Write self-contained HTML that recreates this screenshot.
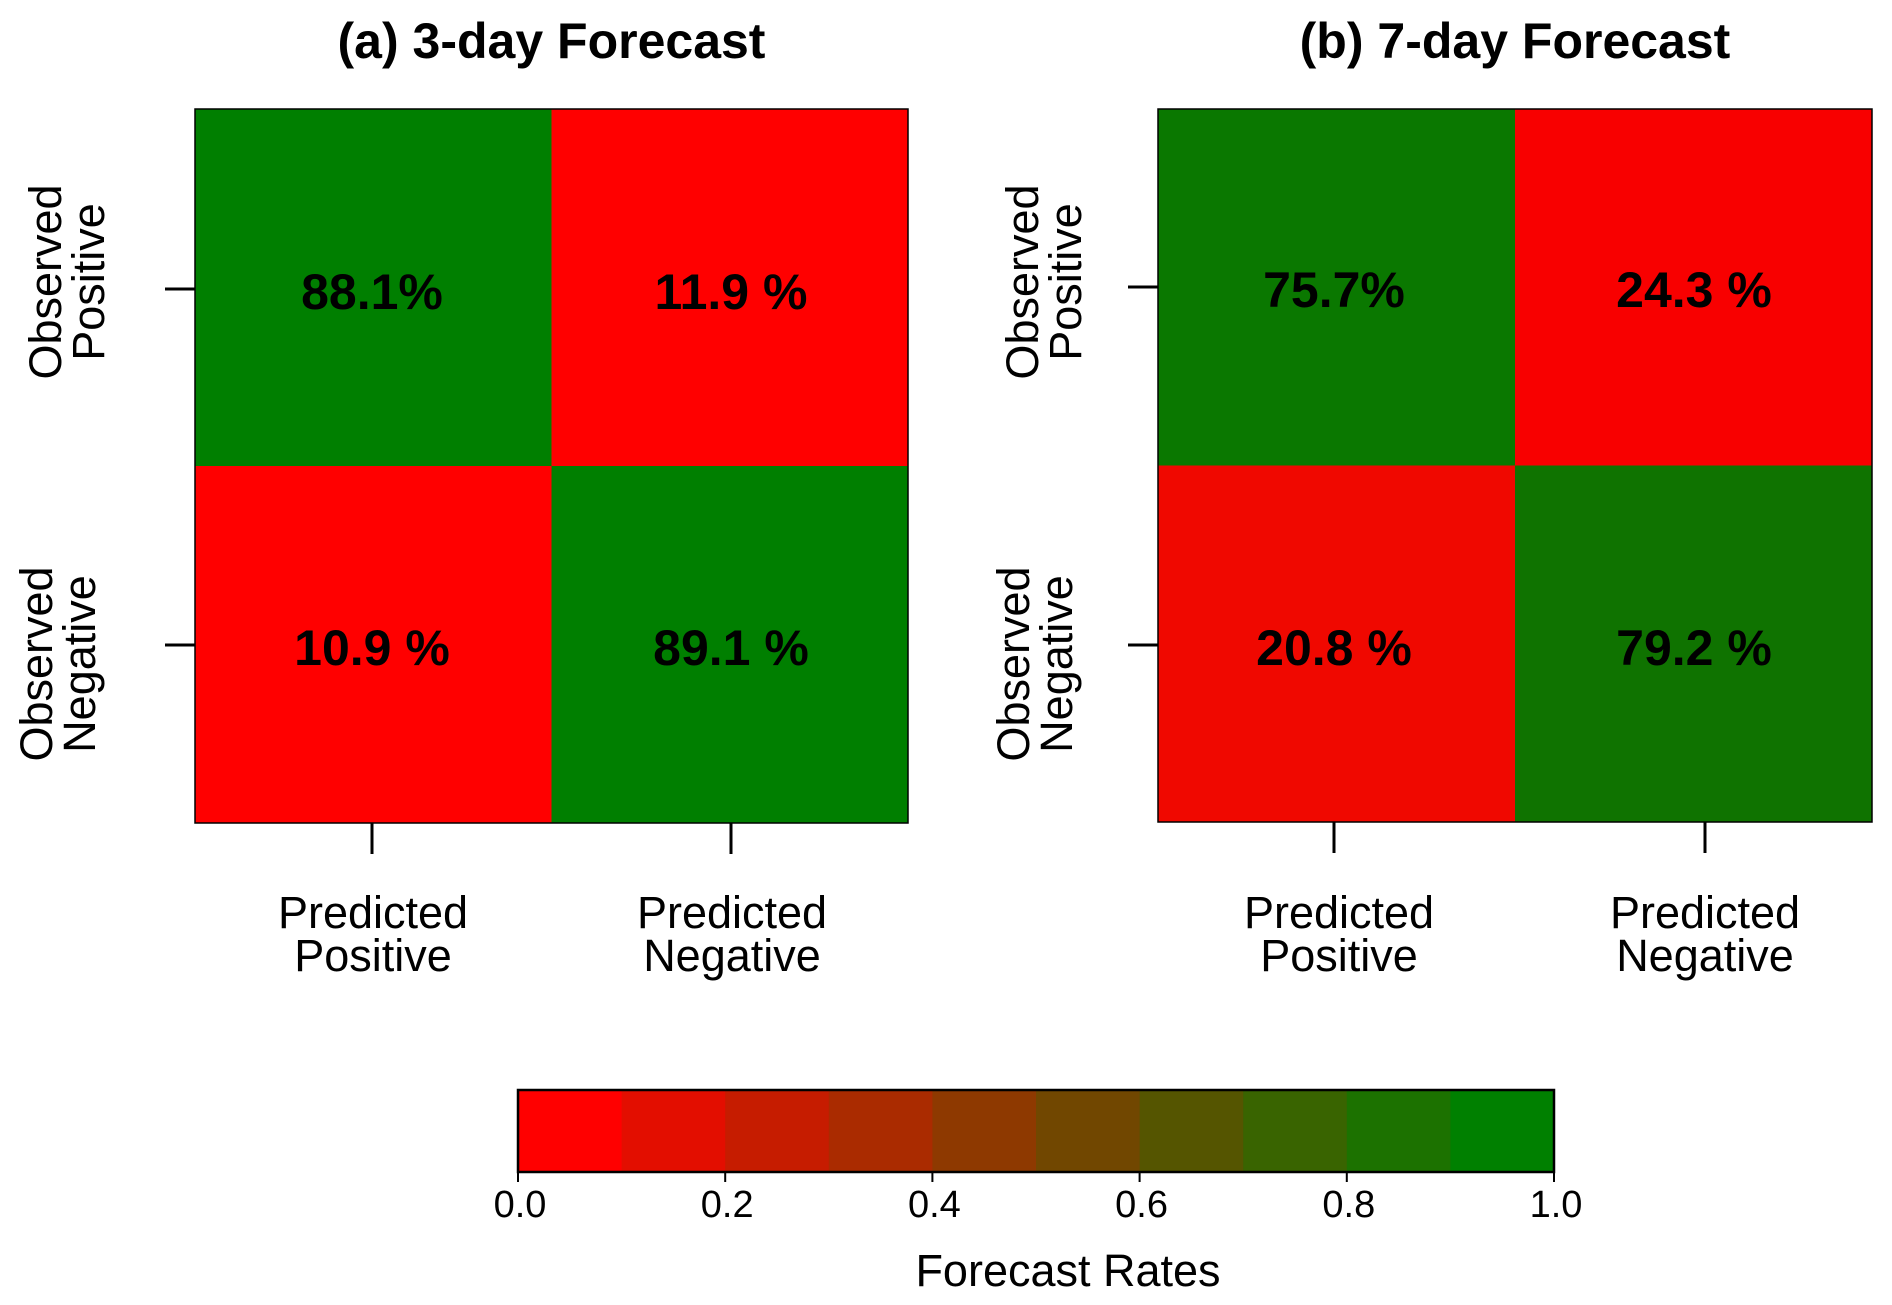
<!DOCTYPE html>
<html><head><meta charset="utf-8"><style>
html,body{margin:0;padding:0;background:#fff}
svg{display:block;font-family:"Liberation Sans",Arial,sans-serif}
</style></head><body>
<svg id="chart" width="1892" height="1305" viewBox="0 0 1892 1305" xmlns="http://www.w3.org/2000/svg">
<g id="root"></g>
</svg>
<script>
const panelTitles = ["(a) 3-day Forecast", "(b) 7-day Forecast"];
const rowLabels = [["Observed", "Positive"], ["Observed", "Negative"]];
const colLabels = [["Predicted", "Positive"], ["Predicted", "Negative"]];
const values3day = [[88.1, 11.9], [10.9, 89.1]];
const values7day = [[75.7, 24.3], [20.8, 79.2]];
const valueText3day = [["88.1%", "11.9 %"], ["10.9 %", "89.1 %"]];
const valueText7day = [["75.7%", "24.3 %"], ["20.8 %", "79.2 %"]];
const cellColors3day = [["#007f00", "#ff0000"], ["#ff0000", "#007f00"]];
const cellColors7day = [["#0a7800", "#f80000"], ["#f00800", "#0f7300"]];
const colorbarTicks = [0.0, 0.2, 0.4, 0.6, 0.8, 1.0];
const colorbarTickLabels = ["0.0", "0.2", "0.4", "0.6", "0.8", "1.0"];
const colorbarBins = 10;

const NS = "http://www.w3.org/2000/svg";
const root = document.getElementById("root");
function mk(tag, attrs, parent, text) {
  const e = document.createElementNS(NS, tag);
  for (const k in attrs) e.setAttribute(k, attrs[k]);
  if (text !== undefined) e.textContent = text;
  (parent || root).appendChild(e);
  return e;
}

const panels = [
  {left: 195, right: 908, top: 109, bottom: 823, xt: [372, 731], yt: [289, 645], tx: [372, 731], xl: [373, 732],
   yl: [[61, 104], [52, 95]], vals: values3day, txt: valueText3day, cols: cellColors3day},
  {left: 1158, right: 1872, top: 109, bottom: 822, xt: [1334, 1705], yt: [287, 645], tx: [1334, 1694], xl: [1339, 1705],
   yl: [[1038, 1081], [1029, 1072]], vals: values7day, txt: valueText7day, cols: cellColors7day}
];

panels.forEach((p, pi) => {
  const g = mk("g", {});
  
  
  const w = (p.right - p.left) / 2, h = (p.bottom - p.top) / 2;
  const xScale = c => p.left + c * w;
  const yScale = r => p.top + r * h;
  const t = mk("text", {x: (p.left + p.right) / 2, y: 58, "text-anchor": "middle", "font-size": 50, "font-weight": "bold"}, g, panelTitles[pi]);
  
  
  for (let r = 0; r < 2; r++) for (let c = 0; c < 2; c++) {
    const rect = mk("rect", {x: xScale(c), y: yScale(r), width: w, height: h, fill: p.cols[r][c]}, g);
    
    
    rect.setAttribute('data-value', p.vals[r][c]);
    const tx = mk("text", {x: p.tx[c], y: p.yt[r] + 20, "text-anchor": "middle", "font-size": 50, "font-weight": "bold"}, g, p.txt[r][c]);
    
    
  }
  const fr = mk("rect", {x: p.left, y: p.top, width: p.right - p.left, height: p.bottom - p.top, fill: "none", stroke: "#000", "stroke-width": 1.5}, g);
  
  
  for (let r = 0; r < 2; r++) {
    const tk = mk("line", {x1: p.left - 30, x2: p.left, y1: p.yt[r], y2: p.yt[r], stroke: "#000", "stroke-width": 3}, g);
    
    
    const cy = r === 0 ? 282 : 664;
    rowLabels[r].forEach((s, li) => {
      const bx = p.yl[r][li];
      const lt = mk("text", {x: bx, y: cy, transform: `rotate(-90 ${bx} ${cy})`, "text-anchor": "middle", "font-size": 45}, g, s);
      
      
    });
  }
  for (let c = 0; c < 2; c++) {
    const tk = mk("line", {x1: p.xt[c], x2: p.xt[c], y1: p.bottom, y2: p.bottom + 31, stroke: "#000", "stroke-width": 3}, g);
    
    
    colLabels[c].forEach((s, li) => {
      const lt = mk("text", {x: p.xl[c], y: 928 + li * 43, "text-anchor": "middle", "font-size": 45}, g, s);
      
      
    });
  }
});

// colorbar
const cb = {left: 518, right: 1554, top: 1090, bottom: 1172};
const cbScale = v => cb.left + v * (cb.right - cb.left);
const cg = mk("g", {});


for (let i = 0; i < colorbarBins; i++) {
  const f = i / (colorbarBins - 1);
  const col = `rgb(${Math.round(255 * (1 - f))},${Math.round(128 * f)},0)`;
  const x0 = cbScale(i / colorbarBins), x1 = cbScale((i + 1) / colorbarBins);
  const r = mk("rect", {x: x0, y: cb.top, width: x1 - x0 + 0.5, height: cb.bottom - cb.top, fill: col}, cg);
  
  
}
const cf = mk("rect", {x: cb.left, y: cb.top, width: cb.right - cb.left, height: cb.bottom - cb.top, fill: "none", stroke: "#000", "stroke-width": 2.5}, cg);


colorbarTicks.forEach((v, i) => {
  const x = cbScale(v);
  const tk = mk("line", {x1: x, x2: x, y1: cb.bottom, y2: cb.bottom + 10, stroke: "#000", "stroke-width": 2}, cg);
  
  
  const lt = mk("text", {x: x + 2, y: 1217, "text-anchor": "middle", "font-size": 38}, cg, colorbarTickLabels[i]);
  
  
});
const ct = mk("text", {x: 1068, y: 1286, "text-anchor": "middle", "font-size": 45}, cg, "Forecast Rates");


</script>
</body></html>
